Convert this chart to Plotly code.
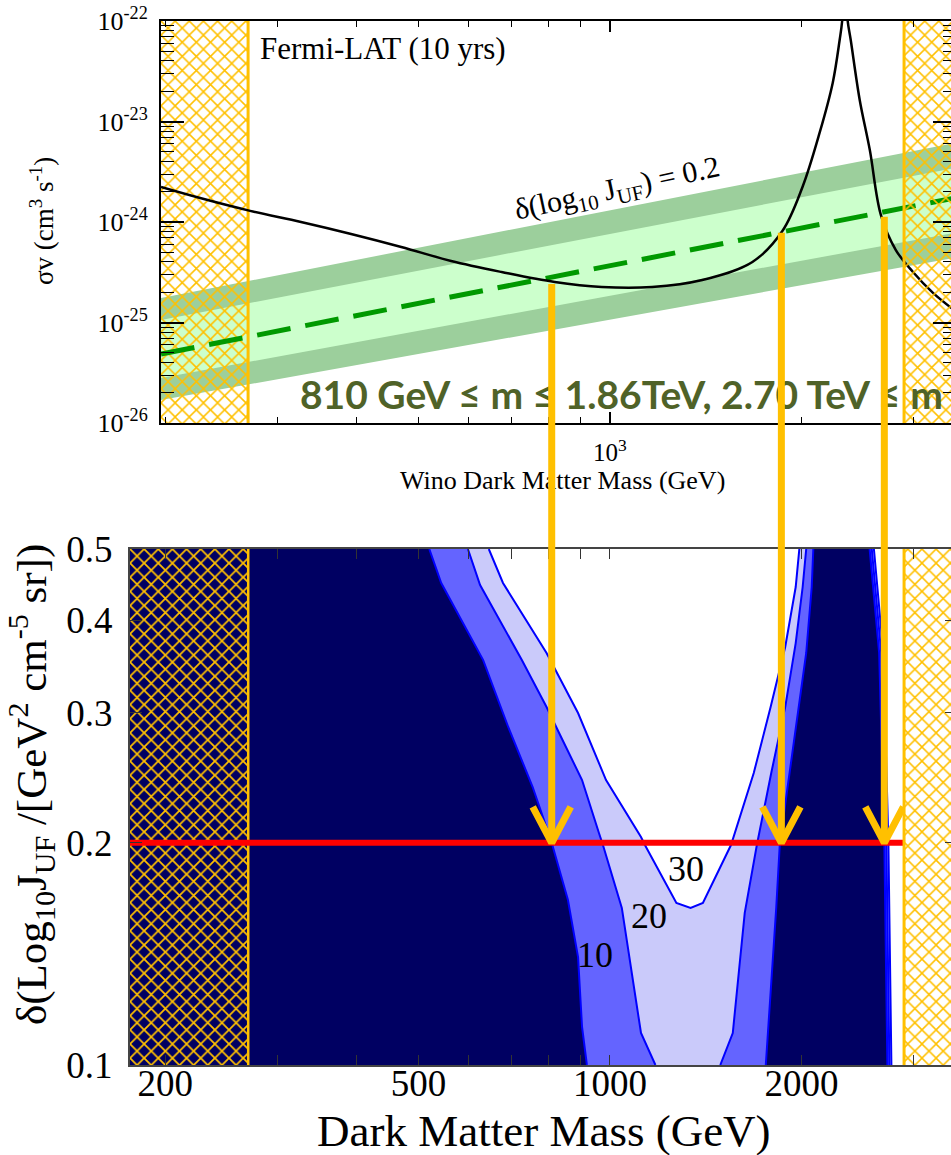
import math
import plotly.graph_objects as go

W, H = 951, 1155

# ---------------- upper panel: Fermi-LAT (10 yrs) wino limit ----------------
top_mass_range = [197, 3437]          # GeV
top_sigmav_range = [1e-26, 1e-22]     # cm^3 s^-1

wino_mass = [197, 227, 272, 327, 392, 470, 563, 676, 819, 971, 1165, 1397, 1675,
             1867, 2008, 2136, 2240, 2297, 2318, 2339, 2365, 2391, 2470, 2562,
             2667, 2815, 2995, 3220, 3475]
wino_sigmav = [2.23e-24, 1.73e-24, 1.29e-24, 1.00e-24, 7.60e-25, 5.64e-25, 4.09e-25,
               3.18e-25, 2.53e-25, 2.26e-25, 2.26e-25, 2.65e-25, 4.00e-25, 8.13e-25,
               2.23e-24, 7.69e-24, 2.42e-23, 6.47e-23, 1.0e-22, 3.0e-22, 1.0e-22,
               6.47e-23, 1.64e-23, 5.20e-24, 1.17e-24, 5.26e-25, 3.18e-25, 1.97e-25,
               1.33e-25]

# sensitivity band for delta(log10 J_UF) = 0.2
band_mass = [197, 3475]
band_center = [4.86e-26, 1.73e-24]
band_inner_hi = [1.06e-25, 3.44e-24]
band_inner_lo = [2.81e-26, 7.80e-25]
band_outer_hi = [1.75e-25, 6.10e-24]
band_outer_lo = [1.69e-26, 4.39e-25]

# excluded mass windows (hatched)
excluded_lo = 270      # GeV
excluded_hi = 2900     # GeV

# mass windows probed at delta(log10 J_UF) = 0.2
arrow_mass = [810, 1860, 2700]
arrow_sigmav = [2.5e-25, 8.1e-25, 1.17e-24]
delta_J = 0.2

# ---------------- lower panel: contours in (mass, delta log10 J_UF) ----------------
bottom_mass_range = [176, 3437]
delta_range = [0.1, 0.5]

c10_left_mass = [520, 543, 632, 692, 756, 810, 859, 891, 904, 920]
c10_left_d = [0.5, 0.4497, 0.3536, 0.287, 0.238, 0.2, 0.1673, 0.14, 0.1126, 0.1]
c10_right_mass = [2088, 2076, 2035, 1934, 1850, 1826, 1770, 1758]
c10_right_d = [0.5, 0.4441, 0.3615, 0.2646, 0.2, 0.1637, 0.1105, 0.1]

c20_left_mass = [598, 625, 727, 795, 832, 904, 961, 975, 1044, 1119, 1179]
c20_left_d = [0.5, 0.4469, 0.3536, 0.3054, 0.2817, 0.2432, 0.2062, 0.1986, 0.1632, 0.1105, 0.1]
c20_right_mass = [2035, 2009, 1959, 1886, 1793, 1714, 1702, 1629, 1560, 1491]
c20_right_d = [0.5, 0.4441, 0.3728, 0.3054, 0.2486, 0.2036, 0.1986, 0.1607, 0.1105, 0.1]

c30_mass = [645, 679, 795, 891, 986, 1119, 1135, 1272, 1339, 1400, 1550, 1683, 1789, 1886, 1959, 1985]
c30_d = [0.5, 0.4497, 0.3615, 0.2998, 0.2432, 0.2036, 0.1986, 0.1658, 0.1632, 0.1658,
         0.1986, 0.2486, 0.3054, 0.3684, 0.4441, 0.5]

# narrow feature next to the upper exclusion window
c10r_mass = [2560, 2650, 2700, 2730]
c20r_mass = [2580, 2670, 2720, 2750]
c30r_mass = [2600, 2690, 2740, 2770]
cr_d = [0.5, 0.3615, 0.2, 0.1]

contour_labels = ["10", "20", "30"]
contour_label_mass = [947, 1151, 1316]
contour_label_d = [0.1409, 0.1591, 0.1843]

# ---------------- styling ----------------
SERIF = "Liberation Serif, Times New Roman, serif"
GOLD = "#FFC000"
NAVY = "#000062"
MID_BLUE = "#6464FF"
LIGHT_BLUE = "#CACAFA"
LINE_BLUE = "#0000FF"

top_dom_x = [161 / W, 1.0]
top_dom_y = [1 - 423 / H, 1 - 21 / H]
bot_dom_x = [130 / W, 1.0]
bot_dom_y = [1 - 1065 / H, 1 - 549 / H]

L10 = math.log10


def top_y_px(v):
    r0, r1 = L10(top_sigmav_range[0]), L10(top_sigmav_range[1])
    f = (L10(v) - r0) / (r1 - r0)
    return H * (1 - (top_dom_y[0] + f * (top_dom_y[1] - top_dom_y[0])))


def bot_y_px(v):
    r0, r1 = L10(delta_range[0]), L10(delta_range[1])
    f = (L10(v) - r0) / (r1 - r0)
    return H * (1 - (bot_dom_y[0] + f * (bot_dom_y[1] - bot_dom_y[0])))


fig = go.Figure()


def area(xs, ys, color, xa="x", ya="y", pattern=None):
    kw = dict(x=xs, y=ys, mode="lines", fill="toself", fillcolor=color,
              line=dict(width=0), xaxis=xa, yaxis=ya, hoverinfo="skip", showlegend=False)
    if pattern is not None:
        kw["fillpattern"] = pattern
    fig.add_trace(go.Scatter(**kw))


def line(xs, ys, color, width, xa="x", ya="y", dash=None, shape="linear"):
    fig.add_trace(go.Scatter(x=xs, y=ys, mode="lines",
                             line=dict(color=color, width=width, dash=dash, shape=shape),
                             xaxis=xa, yaxis=ya, hoverinfo="skip", showlegend=False))


# ---- upper panel ----
area(band_mass + band_mass[::-1], band_outer_hi + band_outer_lo[::-1], "#9CCF9C")
area(band_mass + band_mass[::-1], band_inner_hi + band_inner_lo[::-1], "#CCFFCC")

hatch_top = dict(shape="x", fgcolor=GOLD, bgcolor="rgba(0,0,0,0)", size=10,
                 solidity=0.28, fillmode="replace")
s0, s1 = top_sigmav_range
m0, m1 = top_mass_range
area([m0, excluded_lo, excluded_lo, m0], [s0, s0, s1, s1], "rgba(0,0,0,0)", pattern=hatch_top)
line([excluded_lo, excluded_lo], top_sigmav_range, GOLD, 3)

line(band_mass, band_center, "#009900", 5, dash="34px,15px")
line(wino_mass, wino_sigmav, "black", 2.5, shape="spline")

# right-hand exclusion window drawn on the mirrored axis
area([excluded_hi, m1, m1, excluded_hi], [s0, s0, s1, s1], "rgba(0,0,0,0)", ya="y3", pattern=hatch_top)
line([excluded_hi, excluded_hi], top_sigmav_range, GOLD, 3, ya="y3")

# ---- lower panel ----
d0, d1 = delta_range
b0, b1 = bottom_mass_range
area(c10_left_mass + c10_right_mass[::-1], c10_left_d + c10_right_d[::-1], MID_BLUE, "x2", "y2")
area(c20_left_mass + c20_right_mass[::-1], c20_left_d + c20_right_d[::-1], LIGHT_BLUE, "x2", "y2")
area(c30_mass, c30_d, "white", "x2", "y2")
area(c10r_mass + [excluded_hi, excluded_hi], cr_d + [d0, d1], MID_BLUE, "x2", "y2")
area(c20r_mass + [excluded_hi, excluded_hi], cr_d + [d0, d1], LIGHT_BLUE, "x2", "y2")
area(c30r_mass + [excluded_hi, excluded_hi], cr_d + [d0, d1], "white", "x2", "y2")

for xs, ys in [(c10_left_mass, c10_left_d), (c10_right_mass, c10_right_d),
               (c20_left_mass, c20_left_d), (c20_right_mass, c20_right_d),
               (c30_mass, c30_d), (c10r_mass, cr_d), (c20r_mass, cr_d), (c30r_mass, cr_d)]:
    line(xs, ys, LINE_BLUE, 2, "x2", "y2")

hatch_dark = dict(shape="x", fgcolor=GOLD, bgcolor="rgba(0,0,0,0)", size=10,
                  solidity=0.32, fillmode="replace")
area([b0, excluded_lo, excluded_lo, b0], [d0, d0, d1, d1], "rgba(0,0,0,0)", "x2", "y2", hatch_dark)
line([excluded_lo, excluded_lo], delta_range, GOLD, 2.5, "x2", "y2")

hatch_white = dict(shape="x", fgcolor=GOLD, bgcolor="white", size=10,
                   solidity=0.28, fillmode="replace")
area([excluded_hi, b1, b1, excluded_hi], [d0, d0, d1, d1], "white", "x2", "y4", hatch_white)
line([excluded_hi, excluded_hi], delta_range, GOLD, 3, "x2", "y4")

line(bottom_mass_range, [delta_J, delta_J], "#FF0000", 6, "x2", "y2")

# arrow heads (chevrons) where the windows meet delta = 0.2
X_PX_PER_DEC = (bot_dom_x[1] - bot_dom_x[0]) * W / (L10(b1) - L10(b0))
HEAD_HALF_W = 19    # px
HEAD_H = 36         # px
head_dx = 10 ** (HEAD_HALF_W / X_PX_PER_DEC)
Y_PX_PER_DEC = (bot_dom_y[1] - bot_dom_y[0]) * H / (L10(d1) - L10(d0))
head_dy = 10 ** (HEAD_H / Y_PX_PER_DEC)
cx, cy = [], []
for m in arrow_mass:
    cx += [m / head_dx, m, m * head_dx, None]
    cy += [delta_J * head_dy, delta_J, delta_J * head_dy, None]
fig.add_trace(go.Scatter(x=cx, y=cy, mode="lines", line=dict(color=GOLD, width=7),
                         xaxis="x2", yaxis="y2", hoverinfo="skip", showlegend=False))

# ---------------- shapes ----------------
fig.add_shape(type="rect", xref="x2 domain", yref="y2 domain", x0=0, x1=1, y0=0, y1=1,
              fillcolor=NAVY, line=dict(width=0), layer="below")

# ---------------- annotations ----------------
def paper_text(text, px, py, size, family=SERIF, color="black", angle=0, xanchor="center"):
    return dict(text=text, x=px / W, y=1 - py / H, xref="paper", yref="paper",
                xanchor=xanchor, yanchor="middle", textangle=angle, showarrow=False,
                font=dict(family=family, size=size, color=color))


ann = [
    paper_text("Fermi-LAT (10 yrs)", 258, 48, 31, xanchor="left"),
    paper_text("δ(log<sub>10</sub> J<sub>UF</sub>) = 0.2", 617, 190, 30, angle=-12.2),
    paper_text("<b>810 GeV ≤ m ≤ 1.86TeV, 2.70 TeV ≤ m</b>", 298, 394, 39,
               family="Lato, Open Sans, sans-serif", color="#4F6228", xanchor="left"),
    paper_text("Wino Dark Matter Mass (GeV)", 562, 481, 26),
    paper_text("σv (cm<sup>3</sup> s<sup>-1</sup>)", 42, 221, 27, angle=-90),
    paper_text("Dark Matter Mass (GeV)", 544, 1131, 45),
    paper_text("δ(Log<sub>10</sub>J<sub>UF</sub> /[GeV<sup>2</sup> cm<sup>-5</sup> sr])",
               31, 785, 43, angle=-90),
]

for t, m, d in zip(contour_labels, contour_label_mass, contour_label_d):
    ann.append(dict(text=t, x=L10(m), y=L10(d), xref="x2", yref="y2", showarrow=False,
                    xanchor="center", yanchor="middle",
                    font=dict(family=SERIF, size=36, color="black")))

# arrow shafts from the upper limit curve down to delta = 0.2
head_py = bot_y_px(delta_J)
for m, s in zip(arrow_mass, arrow_sigmav):
    ann.append(dict(text="", x=L10(m), y=L10(delta_J), xref="x2", yref="y2",
                    ax=0, ay=top_y_px(s) - head_py, axref="pixel", ayref="pixel",
                    showarrow=True, arrowhead=0, arrowwidth=7, arrowcolor=GOLD, standoff=0))

# ---------------- axes ----------------
sig_minor = [k * 10.0 ** e for e in range(-26, -22) for k in range(2, 10)]
common = dict(type="log", showgrid=False, zeroline=False, automargin=False)

fig.update_layout(
    width=W, height=H,
    margin=dict(l=0, r=0, t=0, b=0, pad=0, autoexpand=False),
    paper_bgcolor="white", plot_bgcolor="white",
    showlegend=False,
    annotations=ann,
    xaxis=dict(**common, domain=top_dom_x, anchor="y",
               range=[L10(m0), L10(m1)],
               tickvals=[1000], ticktext=["10<sup>3</sup>"],
               ticks="inside", ticklen=11, tickwidth=1.5, tickcolor="black",
               minor=dict(tickvals=[200, 300, 400, 500, 600, 700, 800, 900, 2000, 3000],
                          ticks="inside", ticklen=6, tickwidth=1.2, tickcolor="black"),
               showline=True, linecolor="black", linewidth=2, mirror="ticks",
               ticklabelstandoff=6,
               tickfont=dict(family=SERIF, size=25, color="black")),
    yaxis=dict(**common, domain=top_dom_y, anchor="x",
               range=[L10(s0), L10(s1)],
               tickvals=[1e-26, 1e-25, 1e-24, 1e-23, 1e-22],
               ticktext=["10<sup>-26</sup>", "10<sup>-25</sup>", "10<sup>-24</sup>",
                         "10<sup>-23</sup>", "10<sup>-22</sup>"],
               ticks="inside", ticklen=23, tickwidth=1.5, tickcolor="black",
               minor=dict(tickvals=sig_minor, ticks="inside", ticklen=13,
                          tickwidth=1.2, tickcolor="black"),
               showline=True, linecolor="black", linewidth=2, mirror=False,
               ticklabelstandoff=6,
               tickfont=dict(family=SERIF, size=26, color="black")),
    yaxis3=dict(**common, overlaying="y", anchor="x", side="right",
                range=[L10(s0), L10(s1)],
                tickvals=[1e-26, 1e-25, 1e-24, 1e-23, 1e-22], showticklabels=False,
                ticks="inside", ticklen=18, tickwidth=1.5, tickcolor="black",
                minor=dict(tickvals=sig_minor, ticks="inside", ticklen=8,
                           tickwidth=1.2, tickcolor="black"),
                showline=False),
    xaxis2=dict(**common, domain=bot_dom_x, anchor="y2",
                range=[L10(b0), L10(b1)],
                tickvals=[200, 500, 1000, 2000], ticktext=["200", "500", "1000", "2000"],
                ticks="inside", ticklen=10, tickwidth=1.2, tickcolor="#333333",
                minor=dict(tickvals=[300, 400, 600, 700, 800, 900, 3000], ticks="inside",
                           ticklen=10, tickwidth=1.2, tickcolor="#333333"),
                showline=True, linecolor="#444444", linewidth=2, mirror="ticks",
                ticklabelstandoff=-15,
                tickfont=dict(family=SERIF, size=37, color="black")),
    yaxis2=dict(**common, domain=bot_dom_y, anchor="x2",
                range=[L10(d0), L10(d1)],
                tickvals=[0.1, 0.2, 0.3, 0.4, 0.5],
                ticktext=["0.1", "0.2", "0.3", "0.4", "0.5"],
                ticks="inside", ticklen=12, tickwidth=1.2, tickcolor="#333333",
                showline=True, linecolor="#444444", linewidth=2, mirror=False,
                ticklabelstandoff=8,
                tickfont=dict(family=SERIF, size=37, color="black")),
    yaxis4=dict(**common, overlaying="y2", anchor="x2",
                side="right", range=[L10(d0), L10(d1)],
                tickvals=[0.1, 0.2, 0.3, 0.4, 0.5], showticklabels=False,
                ticks="inside", ticklen=6, tickwidth=1.2, tickcolor="#333333",
                showline=False),
)

fig.write_html("out.html", config={"displayModeBar": False})
